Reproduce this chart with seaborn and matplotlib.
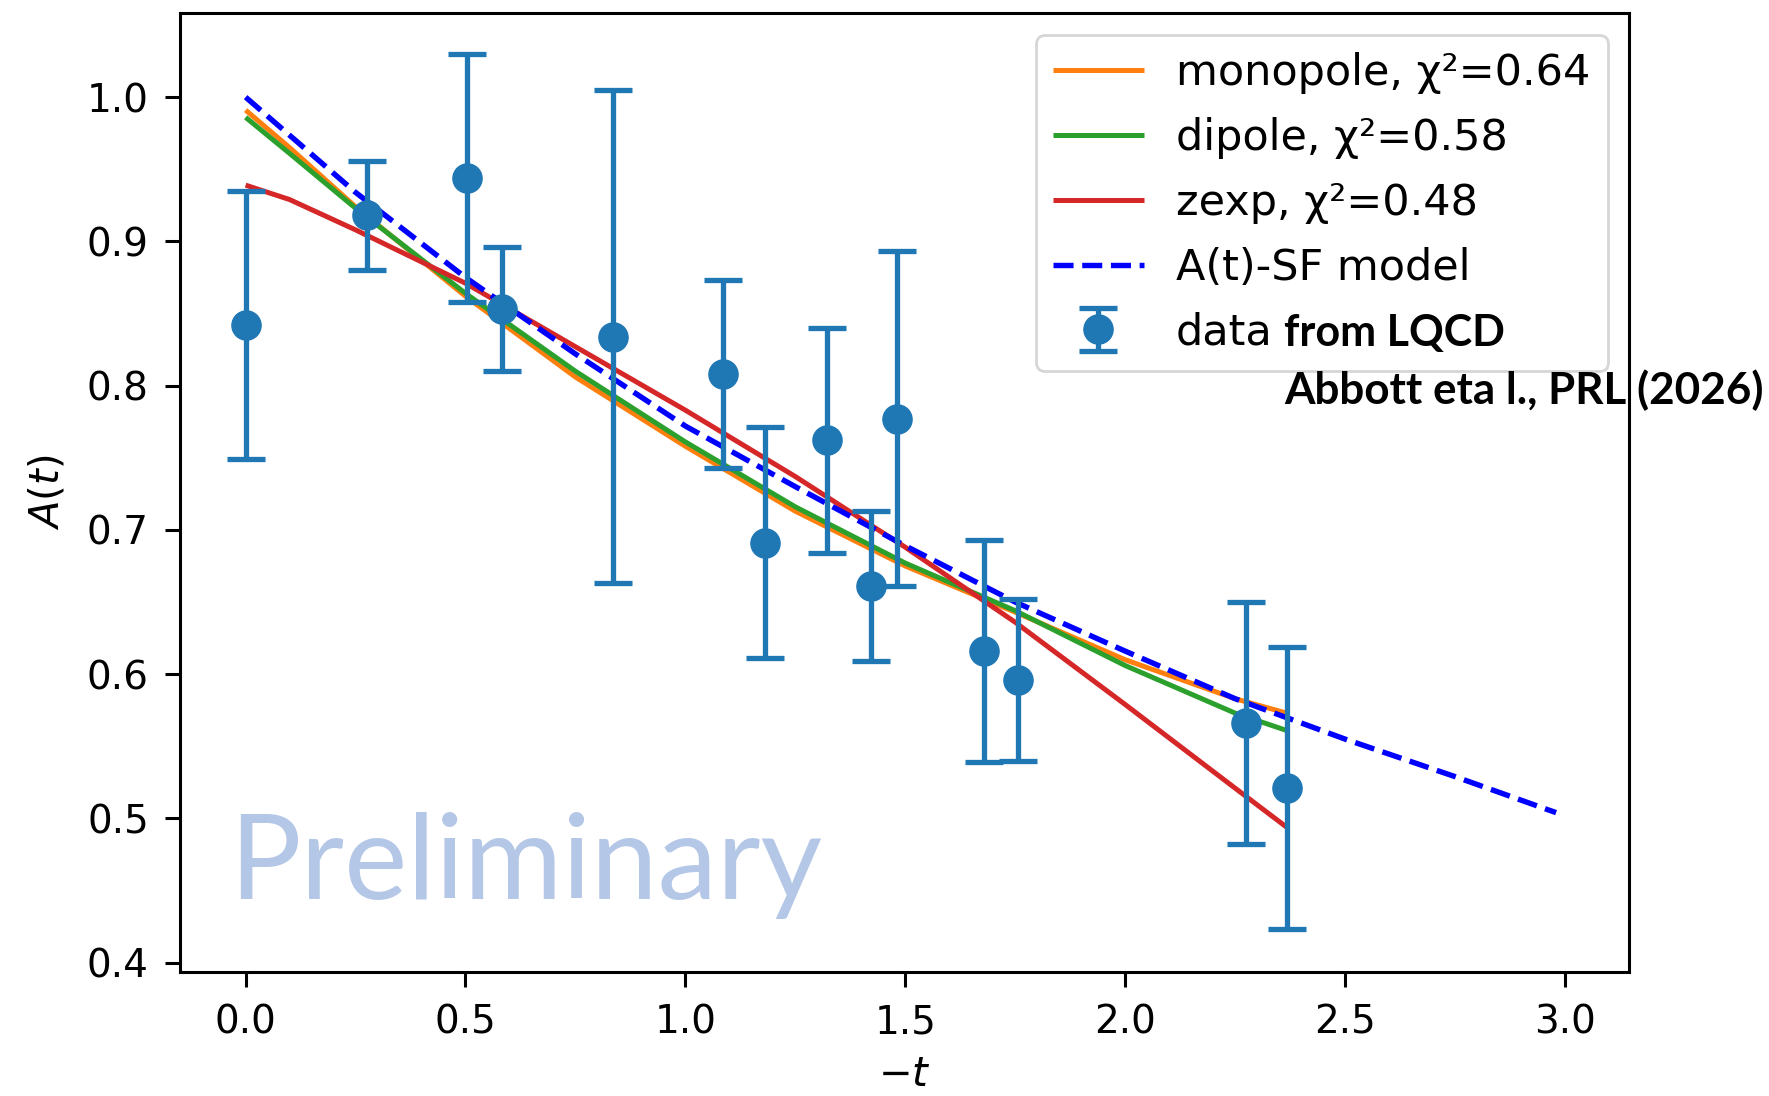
import matplotlib
matplotlib.use("Agg")
import matplotlib.pyplot as plt
import seaborn as sns
import pandas as pd

# ---- data ----
data_t = [0.0, 0.277, 0.503, 0.582, 0.836, 1.085, 1.182, 1.323, 1.423, 1.482, 1.679, 1.757, 2.274, 2.367]
data_A = [0.842, 0.918, 0.944, 0.853, 0.834, 0.808, 0.691, 0.762, 0.661, 0.777, 0.616, 0.596, 0.566, 0.521]
data_err = [0.093, 0.038, 0.086, 0.043, 0.171, 0.065, 0.080, 0.078, 0.052, 0.116, 0.077, 0.056, 0.084, 0.098]

fit_t = [0.0, 0.1, 0.25, 0.5, 0.75, 1.0, 1.25, 1.5, 1.75, 2.0, 2.25, 2.367]
monopole_A = [0.991, 0.965, 0.924, 0.862, 0.806, 0.758, 0.713, 0.675, 0.643, 0.610, 0.583, 0.573]
dipole_A = [0.986, 0.961, 0.923, 0.864, 0.810, 0.761, 0.716, 0.677, 0.644, 0.606, 0.573, 0.561]
zexp_A = [0.939, 0.929, 0.908, 0.871, 0.827, 0.783, 0.737, 0.688, 0.636, 0.579, 0.521, 0.494]

sf_t = [0.0, 0.25, 0.5, 0.75, 1.0, 1.25, 1.5, 1.75, 2.0, 2.25, 2.5, 2.75, 2.98]
sf_A = [1.000, 0.934, 0.875, 0.822, 0.772, 0.730, 0.689, 0.650, 0.616, 0.583, 0.555, 0.529, 0.504]

labels = ["monopole, χ²=0.64", "dipole, χ²=0.58", "zexp, χ²=0.48", "A(t)-SF model", "data"]
xticks = [0.0, 0.5, 1.0, 1.5, 2.0, 2.5, 3.0]
yticks = [0.4, 0.5, 0.6, 0.7, 0.8, 0.9, 1.0]

# ---- figure ----
plt.rcParams["font.family"] = ["DejaVu Sans"]
plt.rcParams["mathtext.fontset"] = "dejavusans"

fig = plt.figure(figsize=(17.69, 10.96), dpi=100)
ax = fig.add_axes([0.1018, 0.1131, 0.9209 - 0.1018, 0.9877 - 0.1131])

fits = pd.DataFrame({"t": fit_t, "mono": monopole_A, "dip": dipole_A, "zexp": zexp_A})
sf = pd.DataFrame({"t": sf_t, "A": sf_A})

sns.lineplot(data=fits, x="t", y="mono", ax=ax, color="#ff7f0e", label=labels[0], zorder=2)
sns.lineplot(data=fits, x="t", y="dip", ax=ax, color="#2ca02c", label=labels[1], zorder=2)
sns.lineplot(data=fits, x="t", y="zexp", ax=ax, color="#d62728", label=labels[2], zorder=2)
sns.lineplot(data=sf, x="t", y="A", ax=ax, color="#0000ff", linestyle="--",
             label=labels[3], zorder=2)
for ln in ax.lines:
    ln.set_linewidth(3.6)
    ln.set_solid_capstyle("butt")
ax.lines[3].set_linewidth(3.9)

eb = ax.errorbar(data_t, data_A, yerr=data_err, fmt="o", color="#1f77b4",
                 ms=21, elinewidth=3.8, capsize=14, capthick=3.8, label=labels[4], zorder=3)

ax.set_xticks(xticks)
ax.set_yticks(yticks)
ax.set_xlim(-0.149, 3.146)
ax.set_ylim(0.3935, 1.058)
ax.tick_params(axis="both", which="major", labelsize=28, length=10.5, width=2.2, pad=12, direction="out")
for s in ax.spines.values():
    s.set_linewidth(2.2)

ax.set_xlabel("$-t$", fontsize=29, labelpad=10)
ax.set_ylabel("$A(t)$", fontsize=29, labelpad=14)

h, l = ax.get_legend_handles_labels()
order = [labels.index(x) for x in l]
pairs = sorted(zip(order, h, l))
leg = ax.legend([p[1] for p in pairs], [p[2] for p in pairs], loc="upper right",
                fontsize=31, labelspacing=0.53, handlelength=2.1, handletextpad=0.75,
                borderaxespad=0.5, framealpha=0.8)
leg.get_frame().set_linewidth(2.0)

# overlays
fig.text(1284 / 1769, 1 - 346 / 1096, "from LQCD", fontsize=31, fontweight="bold",
         family=["Lato", "DejaVu Sans"], color="black", ha="left", va="baseline")
fig.text(1284 / 1769, 1 - 404 / 1096, "Abbott eta l., PRL (2026)", fontsize=31.7, fontweight="bold",
         family=["Lato", "DejaVu Sans"], color="black", ha="left", va="baseline")
fig.text(229 / 1769, 1 - 899 / 1096, "Preliminary", fontsize=86,
         family=["Lato", "DejaVu Sans"], color="#B4C7E7", ha="left", va="baseline")

fig.savefig("out.png", dpi=100)
